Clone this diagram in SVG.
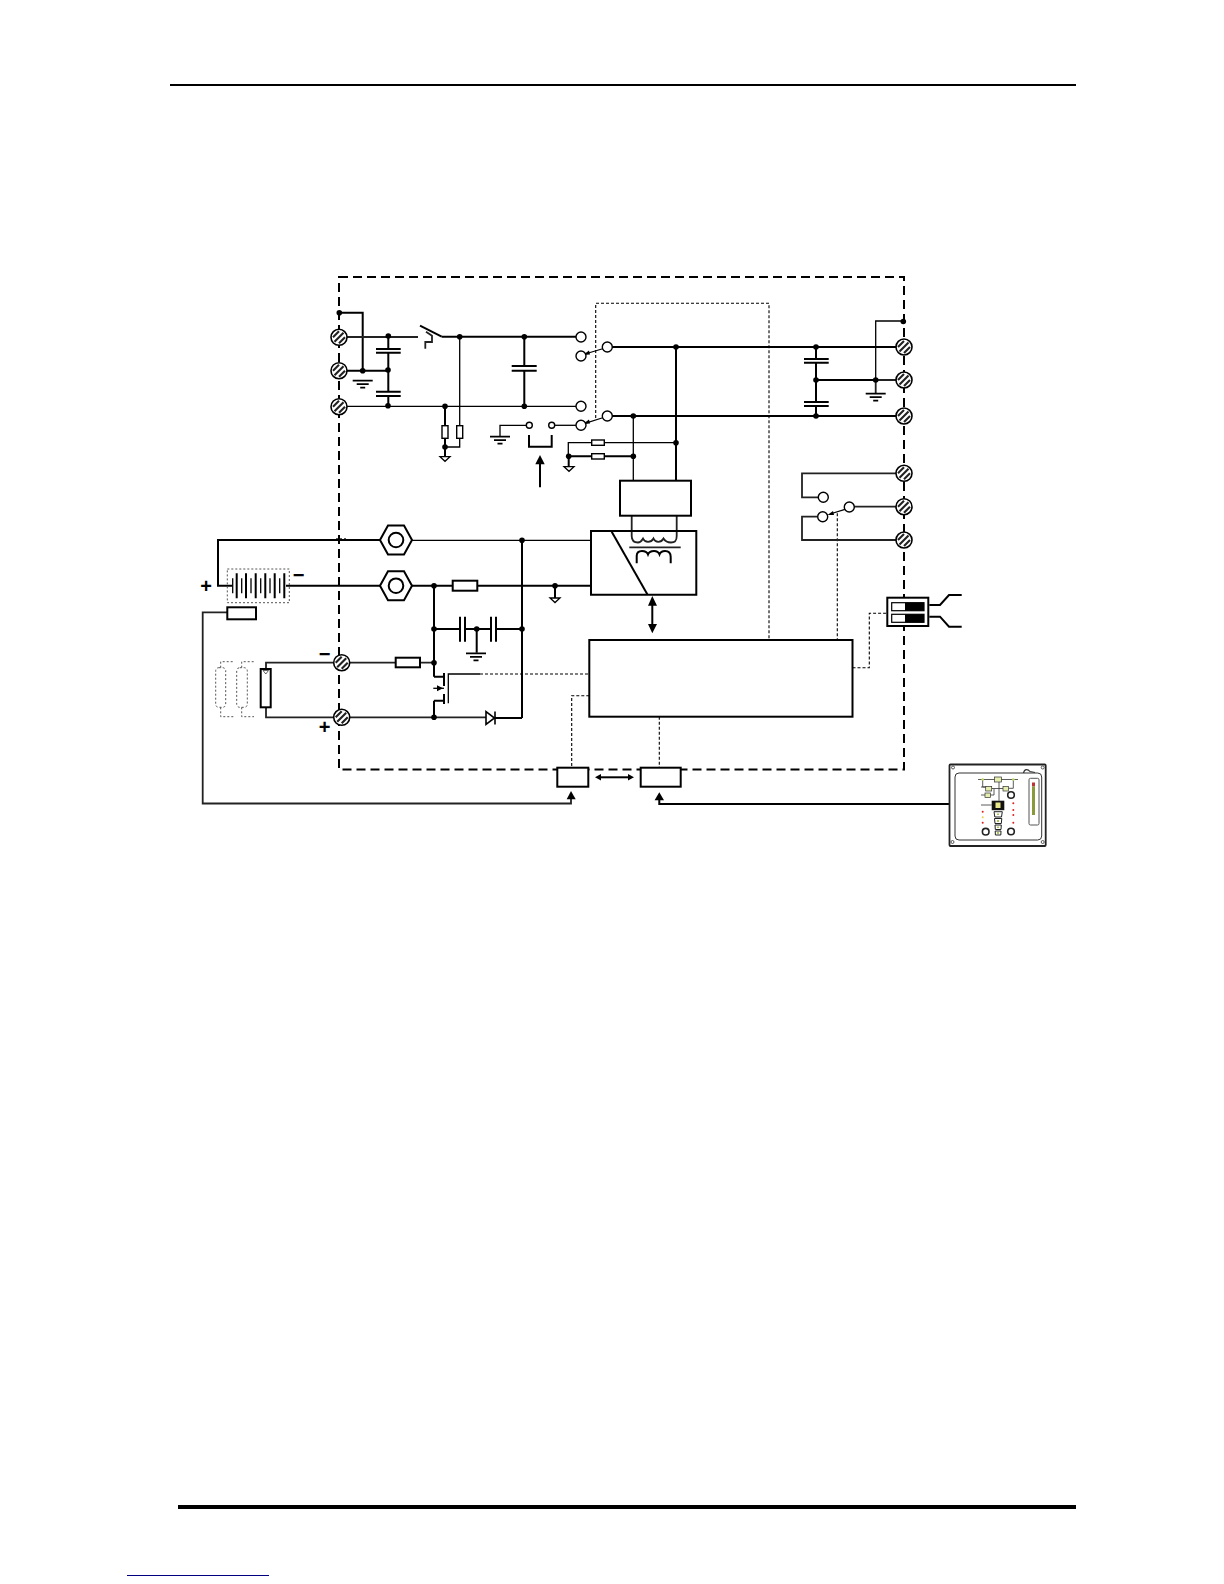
<svg xmlns="http://www.w3.org/2000/svg" width="1224" height="1584" viewBox="0 0 1224 1584">
<style>
.w{fill:none;stroke:#000;stroke-width:2}
.t{fill:none;stroke:#000;stroke-width:1.3}
.g{fill:none;stroke:#222;stroke-width:1.8}
.d{fill:none;stroke:#000;stroke-width:1.1;stroke-dasharray:3 2}
.dt{fill:none;stroke:#555;stroke-width:1;stroke-dasharray:2 2}
.b{fill:#fff;stroke:#000;stroke-width:2}
.o{fill:#fff;stroke:#000;stroke-width:1.4}
.k{fill:#000;stroke:none}
.lab{font-family:"Liberation Sans",Arial,sans-serif;font-size:20px;font-weight:700;fill:#000;text-anchor:middle}
.gt{fill:#e6efb0;stroke:#333;stroke-width:.7}
.pw{fill:none;stroke:#333;stroke-width:.8}
.sb{fill:#fff;stroke:#222;stroke-width:1}
.kn{fill:#fff;stroke:#222;stroke-width:1.6}
.hole{fill:#fff;stroke:#333;stroke-width:.8}
</style>
<defs>
<circle id="dot" r="2.8" class="k"/>
<g id="term">
<circle r="8" fill="#fff" stroke="#000" stroke-width="1.6"/>
<path d="M-6 0 L0 -6 M-4.500 4.500 L4.500 -4.500 M0 6 L6 0" fill="none" stroke="#222" stroke-width="2.100"/>
</g>
<g id="gnd"><path d="M-10 0H10M-6 3.500H6M-2.500 7H2.500" fill="none" stroke="#000" stroke-width="1.700"/></g>
<g id="sgnd"><path d="M-5 0H5L0 4.600Z" fill="#fff" stroke="#000" stroke-width="1.300"/></g>
<g id="hex"><path d="M-16 0L-8 -14.500H8L16 0L8 14.500H-8Z" fill="#fff" stroke="#000" stroke-width="2"/><circle r="7.300" fill="#fff" stroke="#000" stroke-width="2"/></g>
</defs>

<rect id="page-rule-top" x="170" y="84" width="906" height="2" fill="#000"/>
<rect id="page-rule-bottom" x="178" y="1505" width="898" height="4" fill="#000"/>
<rect id="page-link" x="127" y="1575" width="142" height="1" fill="#000080"/>

<g id="enclosure">
<rect x="339" y="277" width="565" height="492.500" fill="none" stroke="#000" stroke-width="2" stroke-dasharray="9 5"/>
</g>

<g id="connectors">
<path class="w" d="M339 312.700H362.700V370.700M347 370.700H388"/>
<path class="g" d="M347 337H418"/>
<path class="w" d="M388.300 336V349M388.300 352.700V391.700M388.300 396V406M376 349H400.700M376 352.700H400.700M376 391.700H400.700M376 396H400.700"/>
<path class="t" d="M347 406.300H576"/>
<path class="w" d="M441.700 336.700H576"/>
<path class="w" d="M420 325.700L441.700 336.700"/>
<path class="g" d="M426 331.700L432 335.700V342H425.300V348.700"/>
<path class="t" d="M459.700 336.700V425.700M459.700 438.300V447H445"/>
<path class="w" d="M524.300 336.700V366M524.300 370.700V406.300M511.700 366H536.700M511.700 370.700H536.700"/>
<path class="w" d="M445 406.300V425.700M445 438.300V456.700"/>
<path class="t" d="M526.300 425.300H500V436"/>
<path class="t" d="M554.700 425.300H576"/>
<path class="w" d="M529 435V446.700H551.700V435"/>
<path class="w" d="M540 464V487.300"/>
<path class="k" d="M540 455L544.700 464.300H535.300Z"/>
<path class="w" d="M612 347H896M612 416H896"/>
<path class="t" d="M603.500 348.500L585 354M603.500 417.500L585 423.300"/>
<path class="k" d="M583 355L589 350.500L590 354.500Z M583 424L589 419.500L590 423.500Z"/>
<path class="d" d="M595.700 418V303.300H769V640"/>
<path class="t" d="M633.300 416V480.700M568.300 456.300V442.700H591.700M604.300 442.700H676"/>
<path class="w" d="M568.700 456.300H591.700M604.300 456.300H633.300M568.700 456.300V466.700"/>
<path class="w" d="M676 347V480.700"/>
<path class="g" d="M631.700 515.700V536C631.700 541 634 542.500 638 542.500C641 542.500 642 540 643 538.500C645 543 651 543 653.500 538.500C655.500 543 661 543 663.500 538.500C665 541 667 542.500 671 542.500C675 542.500 676.700 541 676.700 536V515.700"/>
<path class="w" d="M636.700 563.300V556C636.700 552 639 551 642 551C645 551 647 552 648 554.500C649 552 651.500 551 654 551C656 551 658.500 552 659.500 554.500C660.500 552 662.500 551 665 551C669 551 670.700 553 670.700 557V563.300"/>
<path class="g" d="M629.300 547.300H680.700"/>
<path class="w" d="M380 540H218V585.700H232"/>
<path class="w" d="M286 585.700H380M412 585.700H452.700M477.300 585.700H591"/>
<path class="t" d="M412 540.300H591"/>
<path class="w" d="M434 585.700V676.700M522 540.300V718"/>
<path class="w" d="M434 629H460M465 629H491M496 629H522M476.700 629V652.700"/>
<path class="w" d="M555 586V598"/>
<path class="w" d="M652.300 605V624.500"/>
<path class="k" d="M652.300 596L657 605.700H648Z M652.300 633.300L648 624H657Z"/>
<path class="g" d="M227.300 612.300H202.700V803.500H571V799"/>
<path class="k" d="M571 791L575.700 799.300H566.700Z"/>
<path class="dt" d="M336 538.500H347"/>
<path class="g" d="M266 669V662.700H333M350 662.700H395.700M420 662.700H434M266 707.300V717.300H333M350 717.300H486"/>
<path class="w" d="M434 700.700V718"/>
<path class="w" d="M434 676.700H444M434 700.700H444"/>
<path class="t" d="M433.300 688.300H444"/>
<path class="k" d="M443 688.300L437 685.300V691.300Z"/>
<path class="w" d="M444 673V686M444 694V704"/>
<path class="t" d="M448.300 703.300V674H480"/>
<path class="d" d="M480 674H589.300"/>
<path class="w" d="M495 718H522"/>
<path class="dt" d="M220.700 667.700V661.700H233.300M241.700 667.700V661.700H254M220.700 707.300V716.700H233.300M241.700 707.300V716.700H254"/>
<path class="d" d="M589.300 695.700H571.700V767.700M659.300 716.700V767.700M837.300 513.300V640"/>
<path class="d" d="M852.500 667.700H869.300V613.300H886.700"/>
<path class="w" d="M599 777.300H630"/>
<path class="k" d="M595 777.300L601 774V780.600Z M634 777.300L628 774V780.600Z"/>
<path class="w" d="M659.300 800V804H949"/>
<path class="k" d="M659.300 792.300L664 800.300H654.600Z"/>
<path class="w" d="M816 347V359M816 362.700V402M816 406V416M804 359H828.700M804 362.700H828.700M804 402H828.700M804 406H828.700M816 380H875.700"/>
<path class="t" d="M903.300 321H875.700V380"/>
<path class="g" d="M875.700 380H896M875.700 380V393.700"/>
<path class="g" d="M896 473.300H802V497.300H818.300M854.300 506.700H896M817.700 516.700H802V540H896"/>
<path class="t" d="M845 509.300L830 514"/>
<path class="k" d="M827.500 515L833 511L834 515Z"/>
<path class="w" d="M929.300 605H940L949 595H961.700M929.300 616.700H940L949 626.700H961.700"/>
</g>

<g id="dots">
<use href="#dot" x="339.300" y="312.700"/><use href="#dot" x="388.300" y="336"/><use href="#dot" x="362.700" y="370.700"/><use href="#dot" x="388" y="370"/><use href="#dot" x="388" y="405.700"/>
<use href="#dot" x="459.700" y="336.700"/><use href="#dot" x="524.300" y="336.700"/><use href="#dot" x="524.300" y="406.300"/><use href="#dot" x="445" y="406.300"/><use href="#dot" x="445" y="447"/>
<use href="#dot" x="568.700" y="456.300"/><use href="#dot" x="633.300" y="416"/><use href="#dot" x="633.300" y="456.300"/><use href="#dot" x="676" y="347"/><use href="#dot" x="676" y="442.700"/>
<use href="#dot" x="522" y="540.300"/><use href="#dot" x="434" y="585.700"/><use href="#dot" x="555" y="585.700"/><use href="#dot" x="434" y="629"/><use href="#dot" x="476.700" y="629"/><use href="#dot" x="522" y="629"/><use href="#dot" x="434" y="662.700"/><use href="#dot" x="434" y="717.300"/>
<use href="#dot" x="816" y="347"/><use href="#dot" x="816" y="380"/><use href="#dot" x="816" y="416"/><use href="#dot" x="875.700" y="380"/><use href="#dot" x="903.300" y="321.500"/>
</g>

<g id="grounds">
<use href="#gnd" x="362.700" y="380.700"/><use href="#gnd" x="500" y="436.700"/><use href="#gnd" x="476" y="653.300"/><use href="#gnd" x="875.700" y="393.700"/>
<use href="#sgnd" x="445" y="456.700"/><use href="#sgnd" x="569" y="466.700"/><use href="#sgnd" x="555" y="598"/>
</g>

<g id="terminals-ac-in"><use href="#term" x="339" y="337.300"/><use href="#term" x="339" y="370.700"/><use href="#term" x="339" y="406.700"/></g>
<g id="terminals-ac-out"><use href="#term" x="904" y="347"/><use href="#term" x="904" y="380"/><use href="#term" x="904" y="416"/></g>
<g id="terminals-relay"><use href="#term" x="904" y="473.300"/><use href="#term" x="904" y="506.700"/><use href="#term" x="904" y="540"/></g>
<g id="terminals-pv"><use href="#term" x="341.700" y="662.700"/><use href="#term" x="341.700" y="717.300"/></g>
<g id="studs"><use href="#hex" x="396" y="540"/><use href="#hex" x="396" y="585.700"/></g>

<g id="switch-contacts">
<circle class="o" cx="581" cy="337" r="5"/><circle class="o" cx="581" cy="356" r="5"/><circle class="o" cx="607.300" cy="347" r="5"/>
<circle class="o" cx="581" cy="406.300" r="5"/><circle class="o" cx="581" cy="425.300" r="5"/><circle class="o" cx="607.300" cy="416" r="5"/>
<circle class="o" cx="529.300" cy="425.300" r="3"/><circle class="o" cx="551.700" cy="425.300" r="3"/>
<circle class="o" cx="823.300" cy="497.300" r="5"/><circle class="o" cx="849.300" cy="507" r="5"/><circle class="o" cx="822.700" cy="516.700" r="5"/>
</g>

<g id="resistors">
<rect class="o" x="442" y="425.700" width="6" height="12.600"/><rect class="o" x="456.700" y="425.700" width="6" height="12.600"/>
<rect class="o" x="591.700" y="440" width="12.600" height="5.300"/><rect class="o" x="591.700" y="453.700" width="12.600" height="5.300"/>
</g>

<g id="fuses">
<rect class="b" x="452.700" y="580.700" width="24.600" height="10"/>
<rect class="b" x="395.700" y="657.700" width="24.300" height="9.600"/>
</g>

<g id="capacitors"><path class="w" d="M460 616.700V641.700M465 616.700V641.700M491 616.700V641.700M496 616.700V641.700"/></g>

<g id="charger-box"><rect class="b" x="620" y="480.700" width="71" height="35"/></g>
<g id="converter">
<path class="w" d="M591 531H696.300V594.700H591Z"/>
<path class="w" d="M611.700 531.700L647.300 594.300"/>
</g>
<g id="control-block"><rect class="b" x="589.300" y="640" width="263.200" height="76.700"/></g>

<g id="battery">
<rect class="dt" x="227.300" y="569" width="62" height="33.700"/>
<path class="t" d="M232.700 578.300V593.300M241.700 578.300V593.300M251 578.300V593.300M260.700 578.300V593.300M270 578.300V593.300M279.700 578.300V593.300"/>
<path class="w" d="M236.700 573.300V598.300M246 573.300V598.300M255.700 573.300V598.300M265.300 573.300V598.300M274.700 573.300V598.300M284.300 573.300V598.300"/>
</g>
<g id="battery-sensor"><rect class="b" x="227.300" y="607.300" width="28.700" height="12"/></g>

<g id="pv-panel">
<rect class="b" x="260.700" y="669" width="10" height="38.300"/>
<path d="M263 670.500H268.500L265.800 674Z" fill="#fff" stroke="#000" stroke-width=".6"/>
</g>
<g id="pv-ghost">
<rect class="dt" x="215.700" y="667.700" width="10" height="39.600" rx="3"/>
<rect class="dt" x="236.700" y="667.700" width="10.600" height="39.600" rx="3"/>
</g>

<g id="diode">
<path d="M486 711.500V724.500L494.500 718Z" fill="#fff" stroke="#000" stroke-width="1.600"/>
<path d="M495 711.500V724.500" fill="none" stroke="#000" stroke-width="1.600"/>
</g>

<g id="dip-switch">
<rect class="b" x="887.300" y="597.700" width="41" height="28.300"/>
<rect x="891.700" y="602.700" width="32.300" height="8" fill="#fff" stroke="#000" stroke-width="1.200"/>
<rect x="905" y="602.700" width="19" height="8" fill="#000"/>
<rect x="891.700" y="614.300" width="32.300" height="8" fill="#fff" stroke="#000" stroke-width="1.200"/>
<rect x="905" y="614.300" width="19" height="8" fill="#000"/>
</g>

<g id="port-left"><rect class="b" x="557.300" y="767.700" width="31" height="19"/></g>
<g id="port-right"><rect class="b" x="640.700" y="767.700" width="40" height="19"/></g>

<g id="remote-panel">
<rect x="949.500" y="764.500" width="96.200" height="81.500" rx="1" fill="#fff" stroke="#222" stroke-width="1.800"/>
<rect x="955" y="773" width="86.700" height="67" rx="4" fill="#fff" stroke="#333" stroke-width="1"/>
<circle class="hole" cx="953" cy="767.500" r="1.500"/><circle class="hole" cx="1042.700" cy="767.500" r="1.500"/><circle class="hole" cx="952.500" cy="842" r="1.500"/><circle class="hole" cx="1042.700" cy="842" r="1.500"/>
<path d="M1023.500 773C1024.500 768.500 1028 769 1030 771.500L1035 772.500" fill="none" stroke="#333" stroke-width="1.200"/>
<rect x="1029" y="778.300" width="10" height="46.700" rx="1.500" fill="#fff" stroke="#555" stroke-width="1"/>
<rect x="1032" y="782.500" width="3" height="4" fill="#b33"/>
<rect x="1032" y="786.500" width="3" height="28.500" fill="#8a9a3a"/>
<path class="pw" d="M978 779.500H996M1001 779.500H1018M982.700 779.500V787H986.700M981 787H986.700M1008.300 788.300H1013.300V779.500M981 795H985.700M990 795H994V789M991.700 788.500H1003.300M999 781V800.700M981 805H991.700"/>
<circle cx="982.700" cy="779.500" r="1.300" fill="#b8d860"/><circle cx="1013.300" cy="779.500" r="1.300" fill="#b8d860"/>
<rect class="gt" x="994.500" y="777" width="7" height="5"/>
<rect class="gt" x="985.700" y="786.500" width="6" height="4.500"/>
<rect class="gt" x="1003" y="786.500" width="5.500" height="4.500"/>
<rect class="gt" x="985" y="793" width="5.500" height="4.500"/>
<rect x="991.700" y="800.700" width="12.600" height="9.500" fill="#111"/>
<rect x="995.500" y="802.500" width="5" height="5.500" fill="#e8e88a"/>
<path class="sb" d="M994 811.700H1002.300L1001.500 817H994.800Z"/>
<path class="sb" d="M994.500 818.500H1001.800L1001.300 823.500H995Z"/>
<path class="sb" d="M995 825H1001.300L1001 829.500H995.300Z"/>
<path class="sb" d="M995.200 831H1001L1000.800 835H995.400Z"/>
<path d="M998 813.500V815M998 820V822M998 826.500V828M998 832V834" stroke="#a8c850" stroke-width="2" fill="none"/>
<circle class="kn" cx="1011" cy="795" r="3.300"/>
<circle class="kn" cx="985.700" cy="831.700" r="3.300"/>
<circle class="kn" cx="1011" cy="831.500" r="3.300"/>
<circle cx="982.700" cy="811.700" r="1" fill="#d22"/><circle cx="982.700" cy="817.300" r="1" fill="#e8d040"/><circle cx="982.700" cy="822.700" r="1" fill="#d22"/>
<circle cx="1013.300" cy="803.300" r="1" fill="#d22"/><circle cx="1013.300" cy="810" r="1" fill="#d22"/><circle cx="1013.300" cy="815" r="1" fill="#d22"/><circle cx="1013.300" cy="822.700" r="1" fill="#d22"/>
</g>

<g id="labels">
<text class="lab" x="206" y="592.500">+</text>
<text class="lab" x="298.500" y="582">−</text>
<text class="lab" x="324.500" y="661">−</text>
<text class="lab" x="324.500" y="733.500">+</text>
</g>
</svg>
